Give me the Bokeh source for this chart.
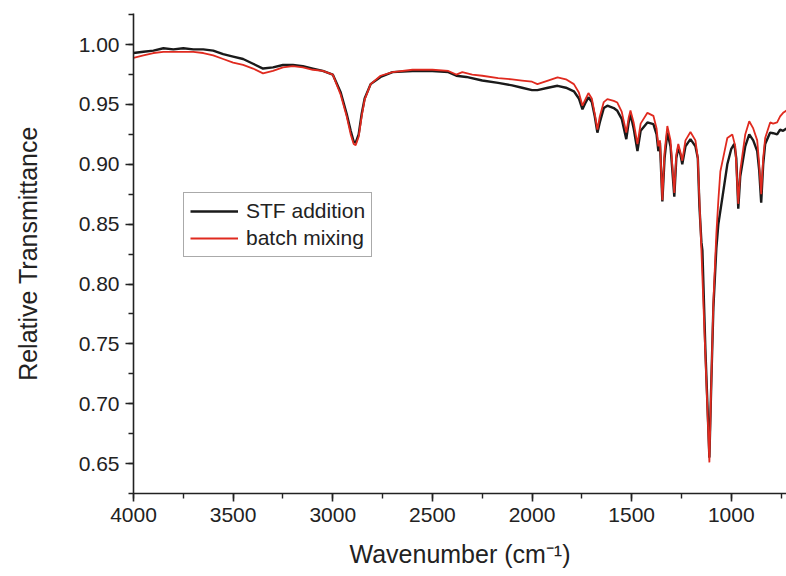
from bokeh.plotting import figure
from bokeh.models import Range1d, SingleIntervalTicker, NumeralTickFormatter
from bokeh.embed import file_html
from bokeh.resources import INLINE

# STF addition (black)
wn_stf = [4000, 3950, 3900, 3850, 3800, 3750, 3700, 3650, 3600, 3550, 3500, 3450, 3400, 3350, 3300,
          3250, 3200, 3150, 3100, 3050, 3000, 2960, 2930, 2910, 2895, 2885, 2870, 2855, 2840, 2810,
          2760, 2700, 2600, 2500, 2420, 2380, 2330, 2250, 2170, 2100, 2050, 2000, 1973, 1920, 1872,
          1830, 1790, 1765, 1747, 1730, 1717, 1700, 1685, 1672, 1660, 1640, 1622, 1590, 1572, 1550,
          1527, 1515, 1506, 1490, 1471, 1455, 1421, 1391, 1375, 1366, 1358, 1346, 1335, 1321, 1305,
          1286, 1276, 1266, 1255, 1246, 1230, 1205, 1180, 1168, 1160, 1150, 1145, 1130, 1110, 1100,
          1090, 1075, 1065, 1045, 1020, 1000, 985, 975, 965, 955, 930, 910, 890, 870, 860,
          850, 840, 830, 805, 790, 770, 755, 740, 723]
t_stf = [0.993, 0.994, 0.995, 0.997, 0.996, 0.997, 0.996, 0.996, 0.995, 0.992, 0.990, 0.988, 0.984, 0.980, 0.981,
         0.983, 0.983, 0.982, 0.980, 0.978, 0.975, 0.960, 0.942, 0.928, 0.919, 0.918, 0.925, 0.942, 0.955, 0.967,
         0.973, 0.977, 0.978, 0.978, 0.977, 0.974, 0.973, 0.970, 0.968, 0.966, 0.964, 0.962, 0.962, 0.964, 0.9656,
         0.964, 0.961, 0.955, 0.946, 0.952, 0.956, 0.952, 0.940, 0.9265, 0.935, 0.947, 0.949, 0.947, 0.9447, 0.938,
         0.921, 0.935, 0.942, 0.930, 0.911, 0.928, 0.935, 0.9335, 0.925, 0.911, 0.918, 0.869, 0.905, 0.9265, 0.915,
         0.873, 0.905, 0.914, 0.908, 0.900, 0.915, 0.921, 0.915, 0.905, 0.865, 0.835, 0.828, 0.745, 0.655, 0.720,
         0.780, 0.830, 0.850, 0.872, 0.900, 0.913, 0.917, 0.905, 0.863, 0.890, 0.915, 0.925, 0.920, 0.911, 0.895,
         0.868, 0.900, 0.917, 0.9265, 0.926, 0.925, 0.929, 0.928, 0.930]

# batch mixing (red)
wn_batch = [4000, 3950, 3900, 3850, 3800, 3750, 3700, 3650, 3600, 3550, 3500, 3450, 3400, 3350, 3300,
            3250, 3200, 3150, 3100, 3050, 3000, 2960, 2930, 2910, 2895, 2885, 2870, 2855, 2840, 2810,
            2760, 2700, 2600, 2500, 2420, 2380, 2350, 2300, 2250, 2170, 2100, 2050, 2000, 1973, 1920,
            1872, 1830, 1790, 1765, 1747, 1730, 1717, 1700, 1685, 1672, 1660, 1640, 1622, 1590, 1572,
            1550, 1527, 1515, 1506, 1490, 1471, 1455, 1421, 1391, 1375, 1366, 1358, 1346, 1335, 1321,
            1305, 1286, 1276, 1266, 1255, 1246, 1230, 1205, 1180, 1168, 1160, 1150, 1130, 1110, 1100,
            1090, 1075, 1065, 1055, 1035, 1020, 995, 980, 965, 955, 930, 910, 890, 870, 860,
            850, 840, 830, 805, 790, 770, 755, 740, 723]
t_batch = [0.989, 0.991, 0.993, 0.994, 0.994, 0.994, 0.994, 0.993, 0.991, 0.988, 0.985, 0.983, 0.980, 0.976, 0.978,
           0.981, 0.982, 0.981, 0.979, 0.978, 0.975, 0.958, 0.940, 0.925, 0.917, 0.916, 0.923, 0.940, 0.954, 0.967,
           0.974, 0.977, 0.979, 0.979, 0.978, 0.975, 0.977, 0.975, 0.974, 0.972, 0.971, 0.970, 0.969, 0.967, 0.970,
           0.9726, 0.971, 0.967, 0.960, 0.949, 0.955, 0.9595, 0.955, 0.942, 0.929, 0.940, 0.952, 0.9545, 0.953, 0.9516,
           0.944, 0.9265, 0.939, 0.945, 0.935, 0.9168, 0.934, 0.943, 0.9405, 0.930, 0.915, 0.920, 0.870, 0.910, 0.932,
           0.920, 0.876, 0.908, 0.917, 0.910, 0.903, 0.920, 0.927, 0.920, 0.905, 0.870, 0.828, 0.740, 0.651, 0.720,
           0.785, 0.842, 0.870, 0.894, 0.910, 0.922, 0.925, 0.915, 0.867, 0.895, 0.925, 0.936, 0.930, 0.920, 0.900,
           0.875, 0.905, 0.922, 0.935, 0.934, 0.935, 0.940, 0.943, 0.945]

FONT = "Liberation Sans"

p = figure(width=786, height=576, output_backend="svg", toolbar_location=None,
           x_range=Range1d(4000, 723), y_range=Range1d(0.625, 1.026),
           min_border_left=133, min_border_right=0, min_border_top=13, min_border_bottom=83)

p.line(wn_stf, t_stf, line_color="#1a1a1a", line_width=2.4, legend_label="STF addition")
p.line(wn_batch, t_batch, line_color="#e02a1f", line_width=1.8, legend_label="batch mixing")

p.outline_line_color = None
p.xgrid.visible = False
p.ygrid.visible = False
p.background_fill_color = "white"
p.border_fill_color = "white"

p.xaxis.ticker = SingleIntervalTicker(interval=500, num_minor_ticks=2)
p.yaxis.ticker = SingleIntervalTicker(interval=0.05, num_minor_ticks=2)
p.yaxis.formatter = NumeralTickFormatter(format="0.00")

for ax in (p.xaxis[0], p.yaxis[0]):
    ax.axis_line_color = "#222222"
    ax.axis_line_width = 1.6
    ax.major_tick_line_color = "#222222"
    ax.major_tick_line_width = 1.6
    ax.minor_tick_line_color = "#222222"
    ax.minor_tick_line_width = 1.4
    ax.major_tick_out = 8
    ax.major_tick_in = 0
    ax.minor_tick_out = 5
    ax.minor_tick_in = 0
    ax.major_label_text_font = FONT
    ax.major_label_text_font_size = "21px"
    ax.major_label_text_color = "#222222"
    ax.axis_label_text_font = FONT
    ax.axis_label_text_font_size = "25px"
    ax.axis_label_text_font_style = "normal"
    ax.axis_label_text_color = "#222222"

p.xaxis.axis_label = "Wavenumber (cm⁻¹)"
p.yaxis.axis_label = "Relative Transmittance"
p.xaxis.major_label_standoff = 6
p.yaxis.major_label_standoff = 6
p.xaxis.axis_label_standoff = 15
p.yaxis.axis_label_standoff = 34

leg = p.legend[0]
leg.location = (50, 236)
leg.border_line_color = "#555555"
leg.border_line_width = 1.2
leg.background_fill_alpha = 1.0
leg.label_text_font = FONT
leg.label_text_font_size = "21px"
leg.label_text_color = "#222222"
leg.glyph_width = 48
leg.glyph_height = 18
leg.label_height = 22
leg.spacing = 3
leg.padding = 6
leg.margin = 0
leg.label_standoff = 8

open("out.html", "w").write(file_html(p, INLINE))
